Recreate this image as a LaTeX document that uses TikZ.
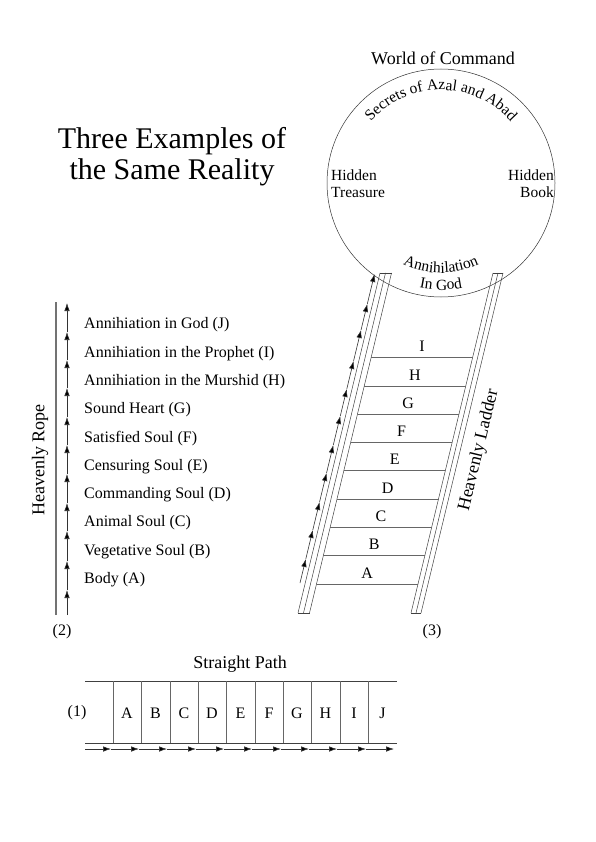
\documentclass[tikz,border=0pt]{standalone}
\usepackage{fontspec}
\setmainfont{Liberation Serif}
\usetikzlibrary{arrows.meta,decorations.text}
\tikzset{
    main_line/.style = {
        draw=black!75,
        line width=0.5pt
    },
    rung_line/.style = {
        draw=black!60,
        line width=0.6pt
    },
    rope_line/.style = {
        draw=black!55,
        line width=1.6pt
    },
    arrow_line/.style = {
        draw=black!80,
        line width=0.6pt,
        -{Latex[length=8pt,width=5.5pt,fill=black]}
    },
    title_text/.style = {
        font=\fontsize{30}{31}\selectfont,
        align=center,
        inner sep=0pt
    },
    head_text/.style = {
        font=\fontsize{18}{20}\selectfont,
        inner sep=0pt
    },
    list_text/.style = {
        font=\fontsize{16}{19}\selectfont,
        inner sep=0pt
    },
    circle_text/.style = {
        font=\fontsize{15.5}{17}\selectfont,
        inner sep=0pt
    },
}
\begin{document}
\begin{tikzpicture}[x=1pt,y=-1pt]
    \useasboundingbox (0,0) rectangle (596,842);

    % title
    \node[title_text] (title) at (172,157) {Three Examples of\\the Same Reality};

    % world of command
    \node[circle, draw=black!80, line width=0.5pt, minimum size=228pt, inner sep=0pt] (world) at (441,183) {};
    \node[head_text] (command) at (443,58) {World of Command};
    \path[decorate, decoration={text along path, text align=center,
        text={|\fontsize{15.5}{17}\selectfont|Secrets of Azal and Abad}}]
        (world.center) ++(212:93) arc[start angle=212, end angle=328, radius=93];
    \path[decorate, decoration={text along path, text align=center,
        text={|\fontsize{15.5}{17}\selectfont|Annihilation}}]
        (world.center) ++(118:90) arc[start angle=118, end angle=62, radius=90];
    \path[decorate, decoration={text along path, text align=center,
        text={|\fontsize{15.5}{17}\selectfont|In God}}]
        (world.center) ++(103:107) arc[start angle=103, end angle=77, radius=107];
    \node[circle_text, anchor=west, align=left] (treasure) at (331,184) {Hidden\\Treasure};
    \node[circle_text, anchor=east, align=right] (book) at (554,184) {Hidden\\Book};

    % heavenly rope
    \coordinate (rope_top) at (56,302);
    \coordinate (rope_bot) at (56,615);
    \path[rope_line] (rope_bot) -- (rope_top);
    \foreach \ya/\yb in {615/590, 590/561, 561/531, 531/503, 503/474, 474/445, 445/417, 417/388, 388/360, 360/332, 332/303}
        \path[arrow_line] (67,\ya) -- (67,\yb);
    \foreach \i/\txt in {0/Annihiation in God (J), 1/Annihiation in the Prophet (I),
        2/Annihiation in the Murshid (H), 3/Sound Heart (G), 4/Satisfied Soul (F),
        5/Censuring Soul (E), 6/Commanding Soul (D), 7/Animal Soul (C),
        8/Vegetative Soul (B), 9/Body (A)}
        \node[list_text, anchor=west] (stage\i) at (84,325+28.3*\i) {\txt};
    \node[head_text, rotate=90] (rope) at (40,460) {Heavenly Rope};
    \node[list_text] (two) at (62,632) {(2)};

    % heavenly ladder
    \foreach \xb in {298,303.5,309.5,411,416,421}
        \path[main_line] (\xb,613) -- (\xb+82,273);
    \path[main_line] (298,613) -- (309.5,613);
    \path[main_line] (380,273) -- (391.5,273);
    \path[main_line] (411,613) -- (421,613);
    \path[main_line] (493,273) -- (503,273);
    \foreach \y/\lab in {584/A, 555/B, 527/C, 499/D, 470/E, 442/F, 414/G, 386/H, 357/I} {
        \pgfmathsetmacro\xl{309.5+(613-\y)*0.2412}
        \pgfmathsetmacro\xr{411+(613-\y)*0.2412}
        \coordinate (rung\lab_l) at (\xl,\y);
        \coordinate (rung\lab_r) at (\xr,\y);
        \path[rung_line] (rung\lab_l) -- (rung\lab_r);
        \node[list_text] (step\lab) at ({(\xl+\xr)/2},\y-11) {\lab};
    }
    \foreach \ya/\yb in {583/559, 559/530, 530/502, 502/473, 473/445, 445/416, 416/389, 389/361, 361/330, 330/304, 304/274}
        \path[arrow_line] ({300+(583-\ya)*0.2412},\ya) -- ({300+(583-\yb)*0.2412},\yb);
    \node[head_text, rotate=76.4] (ladder) at (479,450) {Heavenly Ladder};
    \node[list_text] (three) at (432,632) {(3)};

    % straight path
    \node[head_text] (path) at (240,664) {Straight Path};
    \path[main_line] (85,681) -- (397,681);
    \path[main_line] (85,743) -- (397,743);
    \foreach \xv in {113,141.5,170,198,226.5,255,283,311.5,340,368}
        \path[rung_line] (\xv,681) -- (\xv,743);
    \foreach \xc/\lab in {127/A, 155.5/B, 184/C, 212/D, 240.5/E, 269/F, 297/G, 325.5/H, 354/I, 382.5/J}
        \node[list_text] (cell\lab) at (\xc,713) {\lab};
    \node[list_text] (one) at (77,713) {(1)};
    \foreach \xa/\xb in {85/111, 111/139, 139/167, 167/196, 196/224, 224/252, 252/281, 281/309, 309/337, 337/366, 366/394}
        \path[arrow_line] (\xa,749) -- (\xb,749);
\end{tikzpicture}
\end{document}
